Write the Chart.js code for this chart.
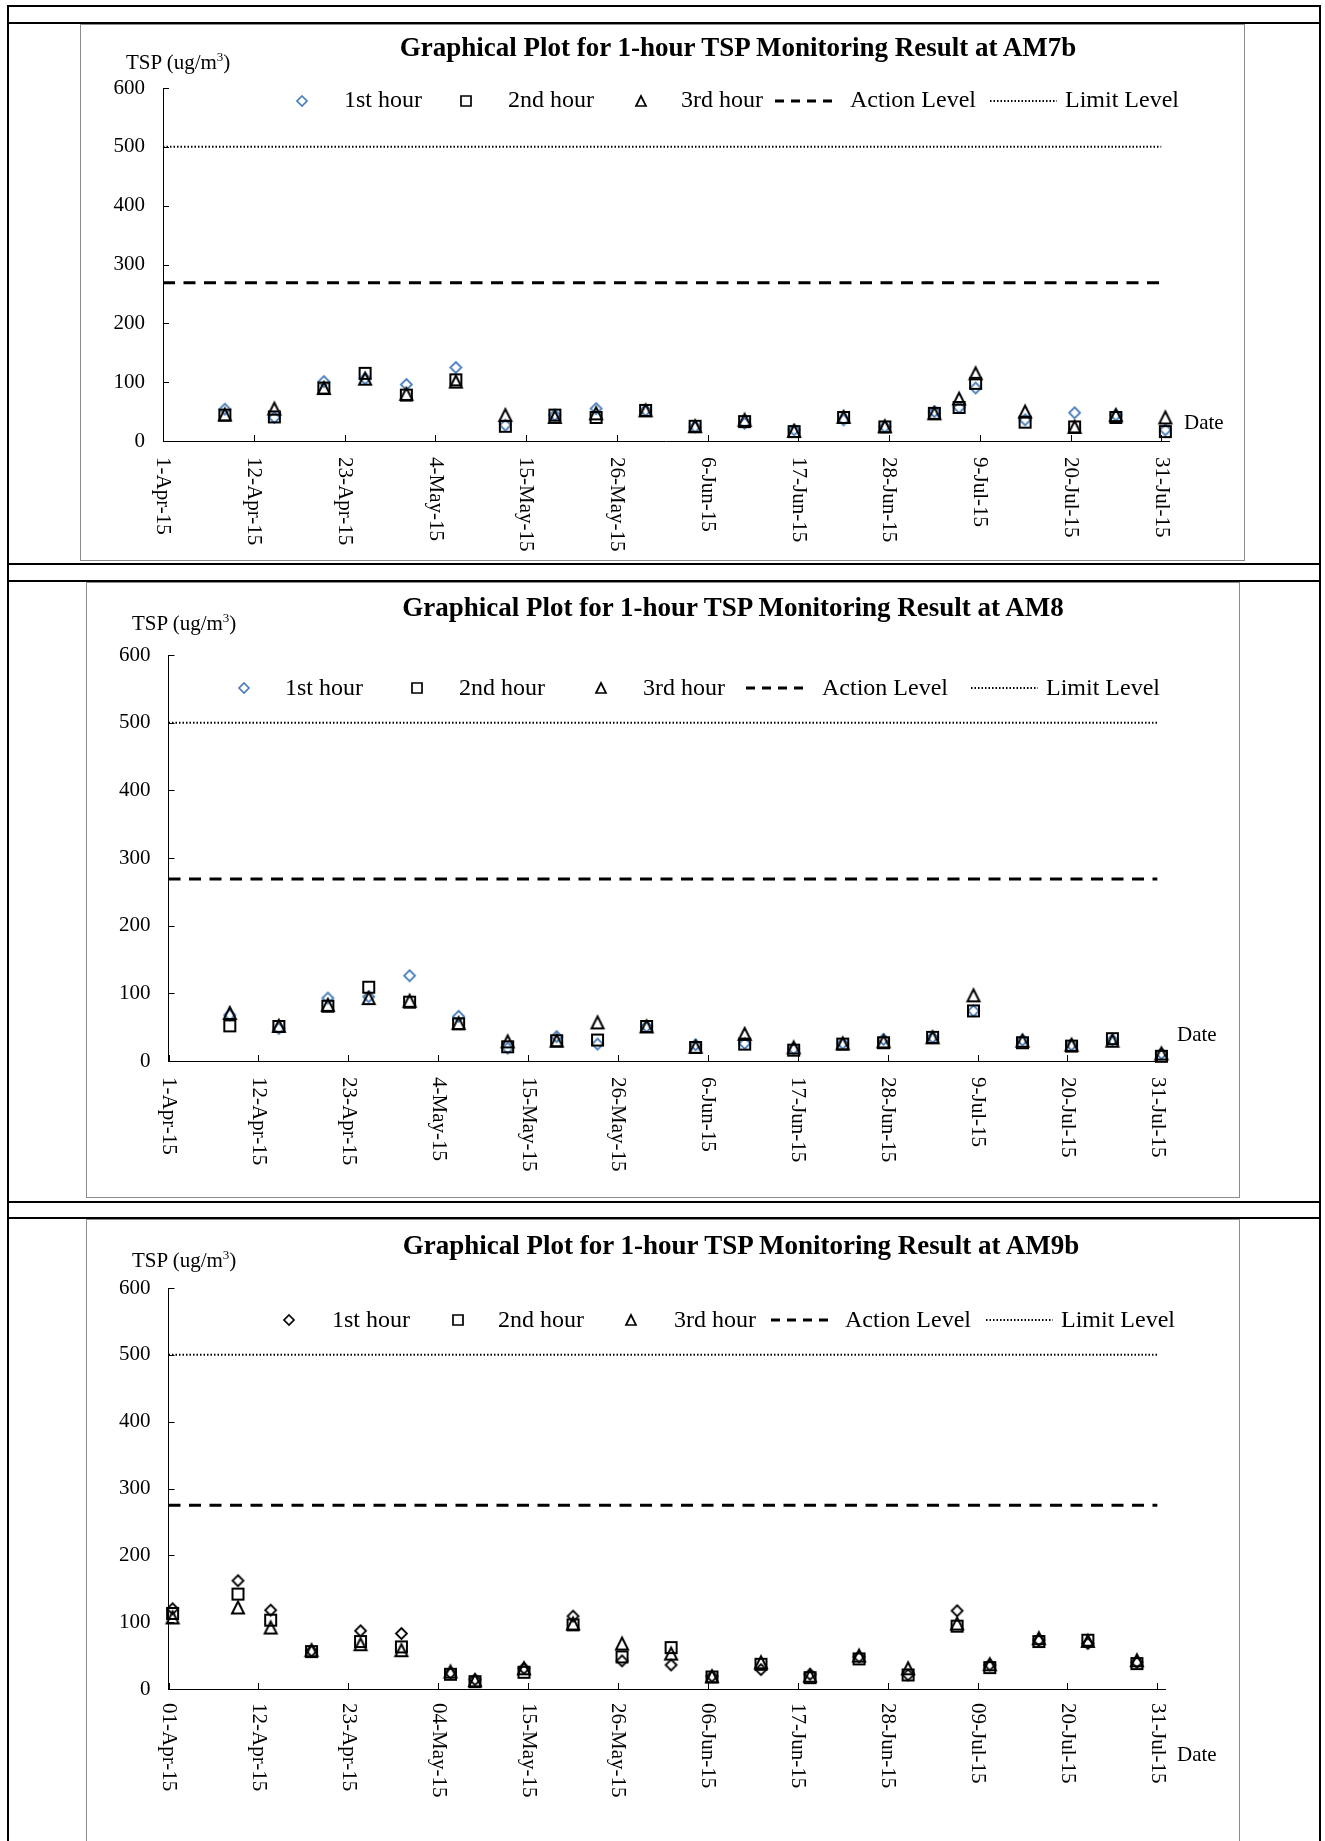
<!DOCTYPE html>
<html>
<head>
<meta charset="utf-8">
<title>Graphical Plot for 1-hour TSP Monitoring Result</title>
<script src="https://cdn.jsdelivr.net/npm/chart.js@4.4.1/dist/chart.umd.min.js"></script>
<style>
  html, body { margin: 0; padding: 0; background: #fff; }
  #page { position: relative; width: 1325px; height: 1841px; overflow: hidden;
          font-family: 'Liberation Serif', 'Times New Roman', serif; color: #000; }
  .rule { position: absolute; background: #000; }
  .box { position: absolute; border: 1px solid #8c8c8c; box-sizing: border-box; }
  .plot { position: absolute; }
  .txt { position: absolute; white-space: nowrap; }
  .sym { position: absolute; }
</style>
</head>
<body>
<div id="page"></div>
<script>
// ---- data ----
const seriesNames = ['1st hour', '2nd hour', '3rd hour'];
const levelNames = ['Action Level', 'Limit Level'];
const limitLevel = 500;

const tickLabelsShort = ['1-Apr-15', '12-Apr-15', '23-Apr-15', '4-May-15', '15-May-15', '26-May-15',
  '6-Jun-15', '17-Jun-15', '28-Jun-15', '9-Jul-15', '20-Jul-15', '31-Jul-15'];
const tickLabelsPadded = ['01-Apr-15', '12-Apr-15', '23-Apr-15', '04-May-15', '15-May-15', '26-May-15',
  '06-Jun-15', '17-Jun-15', '28-Jun-15', '09-Jul-15', '20-Jul-15', '31-Jul-15'];
const axisStart = '1-Apr-15';
const axisEnd = '1-Aug-15';
const levelStart = '1-Apr-15';
const levelEnd = '31-Jul-15';

// AM7b
const am7bDates = ['8-Apr-15', '14-Apr-15', '20-Apr-15', '25-Apr-15', '30-Apr-15', '6-May-15', '12-May-15',
  '18-May-15', '23-May-15', '29-May-15', '4-Jun-15', '10-Jun-15', '16-Jun-15', '22-Jun-15', '27-Jun-15',
  '3-Jul-15', '6-Jul-15', '8-Jul-15', '14-Jul-15', '20-Jul-15', '25-Jul-15', '31-Jul-15'];
const am7b1st = [54, 40, 101, 106, 96, 125, 27, 44, 55, 52, 24, 30, 19, 36, 24, 50, 57, 90, 36, 48, 44, 19];
const am7b2nd = [44, 41, 90, 115, 78, 104, 25, 44, 40, 52, 25, 33, 16, 40, 24, 47, 57, 98, 32, 24, 40, 16];
const am7b3rd = [45, 55, 90, 106, 80, 101, 44, 41, 47, 52, 25, 36, 17, 41, 25, 47, 72, 115, 50, 24, 44, 40];
const am7bAction = 269;

// AM8
const am8Dates = ['8-Apr-15', '14-Apr-15', '20-Apr-15', '25-Apr-15', '30-Apr-15', '6-May-15', '12-May-15',
  '18-May-15', '23-May-15', '29-May-15', '4-Jun-15', '10-Jun-15', '16-Jun-15', '22-Jun-15', '27-Jun-15',
  '3-Jul-15', '8-Jul-15', '14-Jul-15', '20-Jul-15', '25-Jul-15', '31-Jul-15'];
const am81st = [68, 48, 93, 95, 126, 66, 19, 36, 25, 51, 24, 26, 18, 26, 32, 35, 74, 31, 24, 31, 11];
const am82nd = [52, 51, 81, 109, 87, 55, 21, 30, 31, 51, 20, 25, 16, 25, 27, 35, 74, 27, 22, 33, 7];
const am83rd = [71, 52, 83, 93, 89, 56, 29, 30, 57, 51, 21, 40, 20, 26, 29, 35, 97, 30, 24, 30, 11];
const am8Action = 269;

// AM9b
const am9bDates = ['1-Apr-15', '9-Apr-15', '13-Apr-15', '18-Apr-15', '24-Apr-15', '29-Apr-15', '5-May-15',
  '8-May-15', '14-May-15', '20-May-15', '26-May-15', '1-Jun-15', '6-Jun-15', '12-Jun-15', '18-Jun-15',
  '24-Jun-15', '30-Jun-15', '6-Jul-15', '10-Jul-15', '16-Jul-15', '22-Jul-15', '28-Jul-15'];
const am9b1st = [120, 162, 118, 57, 87, 83, 24, 14, 31, 109, 42, 36, 19, 29, 22, 48, 21, 117, 36, 73, 68, 40];
const am9b2nd = [113, 142, 103, 56, 71, 63, 22, 11, 25, 96, 48, 62, 18, 37, 17, 45, 21, 94, 32, 71, 73, 38];
const am9b3rd = [107, 122, 92, 58, 67, 58, 26, 13, 31, 98, 68, 53, 19, 40, 20, 50, 31, 98, 37, 76, 72, 43];
const am9bAction = 275;

// readings are plotted at midday of each date
const sampleOffset = 0.5;

// ---- helpers ----
const FONT = "'Liberation Serif', 'Times New Roman', serif";
const BLUE = '#4a7ebb';
const months = { Jan: 0, Feb: 1, Mar: 2, Apr: 3, May: 4, Jun: 5, Jul: 6, Aug: 7, Sep: 8, Oct: 9, Nov: 10, Dec: 11 };

function toDate(label) {
  const [d, m, y] = label.split('-');
  return Date.UTC(2000 + Number(y), months[m], Number(d));
}
function dayOf(label) {
  return (toDate(label) - toDate(axisStart)) / 86400000;
}

function marker(shape, size, color, lw) {
  const pad = Math.ceil(lw) + 1;
  const c = document.createElement('canvas');
  c.width = c.height = size + 2 * pad;
  const g = c.getContext('2d');
  const m = c.width / 2, h = size / 2;
  g.strokeStyle = color;
  g.lineWidth = lw;
  g.beginPath();
  if (shape === 'diamond') {
    g.moveTo(m, m - h); g.lineTo(m + h, m); g.lineTo(m, m + h); g.lineTo(m - h, m);
  } else if (shape === 'square') {
    g.rect(m - h, m - h, size, size);
  } else {
    g.moveTo(m, m - h); g.lineTo(m + h, m + h); g.lineTo(m - h, m + h);
  }
  g.closePath();
  g.stroke();
  return c;
}

function lineSample(width, dash, lw) {
  const c = document.createElement('canvas');
  c.width = width; c.height = 6;
  const g = c.getContext('2d');
  g.strokeStyle = '#000';
  g.lineWidth = lw;
  g.setLineDash(dash);
  g.beginPath();
  g.moveTo(0, 3); g.lineTo(width, 3);
  g.stroke();
  return c;
}

const page = document.getElementById('page');

function addDiv(cls, l, t, w, h) {
  const d = document.createElement('div');
  d.className = cls;
  Object.assign(d.style, { left: l + 'px', top: t + 'px', width: w + 'px', height: h + 'px' });
  page.appendChild(d);
  return d;
}

// text placed by its baseline
function addText(html, x, baseline, size, bold, center) {
  const s = document.createElement('div');
  s.className = 'txt';
  s.innerHTML = html;
  Object.assign(s.style, {
    fontSize: size + 'px', lineHeight: size + 'px', fontWeight: bold ? 'bold' : 'normal',
    top: (baseline - 0.8375 * size) + 'px', left: x + 'px'
  });
  if (center) s.style.transform = 'translateX(-50%)';
  page.appendChild(s);
}

function addSym(canvas, cx, cy) {
  canvas.className = 'sym';
  canvas.style.left = (cx - canvas.width / 2) + 'px';
  canvas.style.top = (cy - canvas.height / 2) + 'px';
  page.appendChild(canvas);
}

// inward tick marks + rotated date labels
const axisDecor = {
  id: 'axisDecor',
  afterDraw(chart, args, opts) {
    const { ctx, chartArea } = chart;
    const xs = chart.scales.x, ys = chart.scales.y;
    ctx.save();
    ctx.strokeStyle = '#000';
    ctx.lineWidth = 1;
    ctx.beginPath();
    xs.ticks.forEach(t => {
      const px = Math.round(xs.getPixelForValue(t.value)) + 0.5;
      ctx.moveTo(px, chartArea.bottom);
      ctx.lineTo(px, chartArea.bottom - 6);
    });
    ys.ticks.forEach(t => {
      const py = Math.round(ys.getPixelForValue(t.value)) + 0.5;
      ctx.moveTo(chartArea.left, py);
      ctx.lineTo(chartArea.left + 6, py);
    });
    ctx.stroke();
    ctx.fillStyle = '#000';
    ctx.font = '21px ' + FONT;
    ctx.textAlign = 'left';
    ctx.textBaseline = 'middle';
    xs.ticks.forEach((t, i) => {
      ctx.save();
      ctx.translate(xs.getPixelForValue(t.value), chartArea.bottom + opts.gap);
      ctx.rotate(Math.PI / 2);
      ctx.fillText(opts.labels[i], 0, 0);
      ctx.restore();
    });
    ctx.restore();
  }
};

Chart.defaults.font.family = FONT;
Chart.defaults.color = '#000';

const plots = [
  {
    title: 'Graphical Plot for 1-hour TSP Monitoring Result at AM7b',
    dates: am7bDates, values: [am7b1st, am7b2nd, am7b3rd], action: am7bAction,
    ticks: tickLabelsShort, diamond: BLUE,
    box: [80, 24, 1245, 561], area: [163, 88, 1169.5, 441],
    titlePos: [738, 57], unitPos: [126, 70], legendY: 107.5,
    legendX: [302, 344, 466, 508, 641, 681, 775, 850, 990, 1065], datePos: [1184, 430], gap: 16
  },
  {
    title: 'Graphical Plot for 1-hour TSP Monitoring Result at AM8',
    dates: am8Dates, values: [am81st, am82nd, am83rd], action: am8Action,
    ticks: tickLabelsShort, diamond: BLUE,
    box: [86, 582, 1240, 1198], area: [168.5, 655, 1165.5, 1061],
    titlePos: [733, 617], unitPos: [132, 631], legendY: 695,
    legendX: [244, 285, 417, 459, 601, 643, 746, 822, 971, 1046], datePos: [1177, 1042], gap: 16
  },
  {
    title: 'Graphical Plot for 1-hour TSP Monitoring Result at AM9b',
    dates: am9bDates, values: [am9b1st, am9b2nd, am9b3rd], action: am9bAction,
    ticks: tickLabelsPadded, diamond: '#000',
    box: [86, 1219, 1240, 1900], area: [168.5, 1288, 1165.5, 1689],
    titlePos: [741, 1255], unitPos: [132, 1268], legendY: 1327,
    legendX: [289, 332, 458, 498, 631, 674, 771, 845, 986, 1061], datePos: [1177, 1762], gap: 14
  }
];

// table rules
[[7, 5, 1314, 2], [7, 22, 1314, 2], [7, 563, 1314, 2], [7, 580, 1314, 2],
 [7, 1201, 1314, 2], [7, 1217, 1314, 2], [7, 5, 2, 1836], [1319, 5, 2, 1836]]
  .forEach(r => addDiv('rule', r[0], r[1], r[2], r[3]));

const Y_AXIS_W = 60;

plots.forEach(p => {
  const [bl, bt, br, bb] = p.box;
  const [al, at, ar, ab] = p.area;
  addDiv('box', bl, bt, br - bl, bb - bt);

  const canvas = document.createElement('canvas');
  canvas.className = 'plot';
  canvas.width = br - bl;
  canvas.height = bb - bt;
  canvas.style.left = bl + 'px';
  canvas.style.top = bt + 'px';
  page.appendChild(canvas);

  const shapes = ['diamond', 'square', 'triangle'];
  const colors = [p.diamond, '#000', '#000'];
  const sizes = [11, 11, 12];
  const widths = [1.8, 2, 2];

  const scatterSets = p.values.map((vals, k) => ({
    label: seriesNames[k],
    data: p.dates.map((d, i) => ({ x: dayOf(d) + sampleOffset, y: vals[i] })),
    pointStyle: marker(shapes[k], sizes[k], colors[k], widths[k]),
    pointRadius: 6,
    showLine: false,
    clip: false,
    order: 3 - k
  }));

  const levelSets = [
    { label: levelNames[0], value: p.action, dash: [12, 8.5], w: 3 },
    { label: levelNames[1], value: limitLevel, dash: [1.5, 2], w: 2 }
  ].map(l => ({
    label: l.label,
    data: [{ x: dayOf(levelStart), y: l.value }, { x: dayOf(levelEnd), y: l.value }],
    showLine: true,
    pointRadius: 0,
    borderColor: '#000',
    borderWidth: l.w,
    borderDash: l.dash,
    fill: false,
    order: 10
  }));

  const tickDays = p.ticks.map(dayOf);

  new Chart(canvas, {
    type: 'scatter',
    data: { datasets: [...scatterSets, ...levelSets] },
    options: {
      responsive: false,
      animation: false,
      events: [],
      devicePixelRatio: 1,
      layout: {
        autoPadding: false,
        padding: {
          left: al - bl - Y_AXIS_W,
          top: at - bt,
          right: br - ar,
          bottom: bb - ab
        }
      },
      plugins: {
        legend: { display: false },
        title: { display: false },
        tooltip: { enabled: false },
        axisDecor: { labels: p.ticks, gap: p.gap }
      },
      scales: {
        x: {
          type: 'linear',
          min: dayOf(axisStart),
          max: dayOf(axisEnd),
          grid: { display: false, drawTicks: false },
          border: { display: true, color: '#000', width: 1 },
          ticks: { display: false },
          afterBuildTicks: s => { s.ticks = tickDays.map(v => ({ value: v })); },
          afterFit: s => { s.height = 0; }
        },
        y: {
          min: 0,
          max: 600,
          grid: { display: false, drawTicks: false },
          border: { display: true, color: '#000', width: 1 },
          ticks: { stepSize: 100, padding: 18, color: '#000', font: { size: 21 } },
          afterFit: s => { s.width = Y_AXIS_W; }
        }
      }
    },
    plugins: [axisDecor]
  });

  // titles and labels
  addText(p.title, p.titlePos[0], p.titlePos[1], 27, true, true);
  addText('TSP (ug/m<span style="font-size:13px;position:relative;top:-8px">3</span>)',
    p.unitPos[0], p.unitPos[1], 21, false, false);
  addText('Date', p.datePos[0], p.datePos[1], 21, false, false);

  // legend
  const L = p.legendX;
  const symY = p.legendY - 7;
  addSym(marker('diamond', 10, p.diamond, 1.7), L[0], symY);
  addText(seriesNames[0], L[1], p.legendY, 24, false, false);
  addSym(marker('square', 10, '#000', 1.7), L[2], symY);
  addText(seriesNames[1], L[3], p.legendY, 24, false, false);
  addSym(marker('triangle', 10, '#000', 1.7), L[4], symY);
  addText(seriesNames[2], L[5], p.legendY, 24, false, false);
  addSym(lineSample(62, [9, 7], 3), L[6] + 31, symY);
  addText(levelNames[0], L[7], p.legendY, 24, false, false);
  addSym(lineSample(67, [1.5, 2], 2), L[8] + 33.5, symY);
  addText(levelNames[1], L[9], p.legendY, 24, false, false);
});
</script>
</body>
</html>
